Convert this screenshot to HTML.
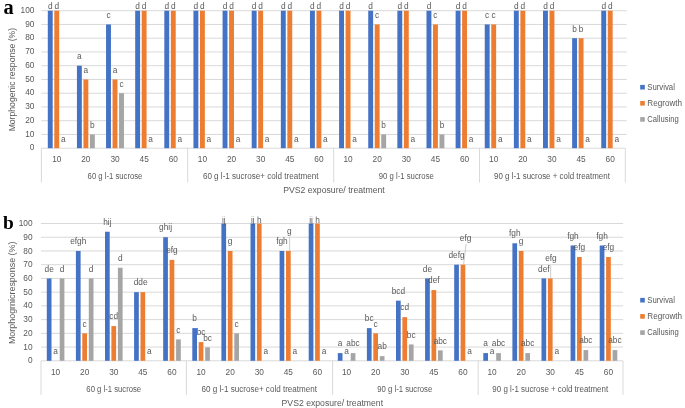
<!DOCTYPE html>
<html><head><meta charset="utf-8"><style>
html,body{margin:0;padding:0;background:#fff;}
body{width:685px;height:408px;overflow:hidden;}
svg{display:block;font-family:"Liberation Sans", sans-serif;}
svg{will-change:transform;filter:blur(0.4px);}
</style></head><body>
<svg width="685" height="408" viewBox="0 0 685 408">
<rect width="685" height="408" fill="#fff"/>
<rect x="41.40" y="133.95" width="585.40" height="1" fill="#d9d9d9"/>
<rect x="41.40" y="120.20" width="585.40" height="1" fill="#d9d9d9"/>
<rect x="41.40" y="106.45" width="585.40" height="1" fill="#d9d9d9"/>
<rect x="41.40" y="92.70" width="585.40" height="1" fill="#d9d9d9"/>
<rect x="41.40" y="78.95" width="585.40" height="1" fill="#d9d9d9"/>
<rect x="41.40" y="65.20" width="585.40" height="1" fill="#d9d9d9"/>
<rect x="41.40" y="51.45" width="585.40" height="1" fill="#d9d9d9"/>
<rect x="41.40" y="37.70" width="585.40" height="1" fill="#d9d9d9"/>
<rect x="41.40" y="23.95" width="585.40" height="1" fill="#d9d9d9"/>
<rect x="41.40" y="10.20" width="585.40" height="1" fill="#d9d9d9"/>
<rect x="41.40" y="147.70" width="583.90" height="1" fill="#d9d9d9"/>
<rect x="40.90" y="148.20" width="1" height="34.30" fill="#d9d9d9"/>
<rect x="187.20" y="148.20" width="1" height="34.30" fill="#d9d9d9"/>
<rect x="333.20" y="148.20" width="1" height="34.30" fill="#d9d9d9"/>
<rect x="479.00" y="148.20" width="1" height="34.30" fill="#d9d9d9"/>
<rect x="624.80" y="148.20" width="1" height="34.30" fill="#d9d9d9"/>
<text x="34.40" y="150.40" text-anchor="end" font-size="8.3" fill="#595959" >0</text>
<text x="34.40" y="136.65" text-anchor="end" font-size="8.3" fill="#595959" >10</text>
<text x="34.40" y="122.90" text-anchor="end" font-size="8.3" fill="#595959" >20</text>
<text x="34.40" y="109.15" text-anchor="end" font-size="8.3" fill="#595959" >30</text>
<text x="34.40" y="95.40" text-anchor="end" font-size="8.3" fill="#595959" >40</text>
<text x="34.40" y="81.65" text-anchor="end" font-size="8.3" fill="#595959" >50</text>
<text x="34.40" y="67.90" text-anchor="end" font-size="8.3" fill="#595959" >60</text>
<text x="34.40" y="54.15" text-anchor="end" font-size="8.3" fill="#595959" >70</text>
<text x="34.40" y="40.40" text-anchor="end" font-size="8.3" fill="#595959" >80</text>
<text x="34.40" y="26.65" text-anchor="end" font-size="8.3" fill="#595959" >90</text>
<text x="34.40" y="12.90" text-anchor="end" font-size="8.3" fill="#595959" >100</text>
<rect x="47.80" y="10.70" width="4.9" height="137.50" fill="#4472c4"/>
<text x="50.25" y="9.20" text-anchor="middle" font-size="8.3" fill="#595959" >d</text>
<rect x="54.30" y="10.70" width="4.9" height="137.50" fill="#ed7d31"/>
<text x="56.75" y="9.20" text-anchor="middle" font-size="8.3" fill="#595959" >d</text>
<text x="63.25" y="141.60" text-anchor="middle" font-size="8.3" fill="#595959" >a</text>
<rect x="76.93" y="65.70" width="4.9" height="82.50" fill="#4472c4"/>
<text x="79.38" y="59.10" text-anchor="middle" font-size="8.3" fill="#595959" >a</text>
<rect x="83.43" y="79.45" width="4.9" height="68.75" fill="#ed7d31"/>
<text x="85.88" y="72.85" text-anchor="middle" font-size="8.3" fill="#595959" >a</text>
<rect x="89.93" y="134.45" width="4.9" height="13.75" fill="#a5a5a5"/>
<text x="92.38" y="127.85" text-anchor="middle" font-size="8.3" fill="#595959" >b</text>
<rect x="106.06" y="24.45" width="4.9" height="123.75" fill="#4472c4"/>
<text x="108.51" y="17.85" text-anchor="middle" font-size="8.3" fill="#595959" >c</text>
<rect x="112.56" y="79.45" width="4.9" height="68.75" fill="#ed7d31"/>
<text x="115.01" y="72.85" text-anchor="middle" font-size="8.3" fill="#595959" >a</text>
<rect x="119.06" y="93.20" width="4.9" height="55.00" fill="#a5a5a5"/>
<text x="121.51" y="86.60" text-anchor="middle" font-size="8.3" fill="#595959" >c</text>
<rect x="135.19" y="10.70" width="4.9" height="137.50" fill="#4472c4"/>
<text x="137.64" y="9.20" text-anchor="middle" font-size="8.3" fill="#595959" >d</text>
<rect x="141.69" y="10.70" width="4.9" height="137.50" fill="#ed7d31"/>
<text x="144.14" y="9.20" text-anchor="middle" font-size="8.3" fill="#595959" >d</text>
<text x="150.64" y="141.60" text-anchor="middle" font-size="8.3" fill="#595959" >a</text>
<rect x="164.32" y="10.70" width="4.9" height="137.50" fill="#4472c4"/>
<text x="166.77" y="9.20" text-anchor="middle" font-size="8.3" fill="#595959" >d</text>
<rect x="170.82" y="10.70" width="4.9" height="137.50" fill="#ed7d31"/>
<text x="173.27" y="9.20" text-anchor="middle" font-size="8.3" fill="#595959" >d</text>
<text x="179.77" y="141.60" text-anchor="middle" font-size="8.3" fill="#595959" >a</text>
<rect x="193.45" y="10.70" width="4.9" height="137.50" fill="#4472c4"/>
<text x="195.90" y="9.20" text-anchor="middle" font-size="8.3" fill="#595959" >d</text>
<rect x="199.95" y="10.70" width="4.9" height="137.50" fill="#ed7d31"/>
<text x="202.40" y="9.20" text-anchor="middle" font-size="8.3" fill="#595959" >d</text>
<text x="208.90" y="141.60" text-anchor="middle" font-size="8.3" fill="#595959" >a</text>
<rect x="222.58" y="10.70" width="4.9" height="137.50" fill="#4472c4"/>
<text x="225.03" y="9.20" text-anchor="middle" font-size="8.3" fill="#595959" >d</text>
<rect x="229.08" y="10.70" width="4.9" height="137.50" fill="#ed7d31"/>
<text x="231.53" y="9.20" text-anchor="middle" font-size="8.3" fill="#595959" >d</text>
<text x="238.03" y="141.60" text-anchor="middle" font-size="8.3" fill="#595959" >a</text>
<rect x="251.71" y="10.70" width="4.9" height="137.50" fill="#4472c4"/>
<text x="254.16" y="9.20" text-anchor="middle" font-size="8.3" fill="#595959" >d</text>
<rect x="258.21" y="10.70" width="4.9" height="137.50" fill="#ed7d31"/>
<text x="260.66" y="9.20" text-anchor="middle" font-size="8.3" fill="#595959" >d</text>
<text x="267.16" y="141.60" text-anchor="middle" font-size="8.3" fill="#595959" >a</text>
<rect x="280.84" y="10.70" width="4.9" height="137.50" fill="#4472c4"/>
<text x="283.29" y="9.20" text-anchor="middle" font-size="8.3" fill="#595959" >d</text>
<rect x="287.34" y="10.70" width="4.9" height="137.50" fill="#ed7d31"/>
<text x="289.79" y="9.20" text-anchor="middle" font-size="8.3" fill="#595959" >d</text>
<text x="296.29" y="141.60" text-anchor="middle" font-size="8.3" fill="#595959" >a</text>
<rect x="309.97" y="10.70" width="4.9" height="137.50" fill="#4472c4"/>
<text x="312.42" y="9.20" text-anchor="middle" font-size="8.3" fill="#595959" >d</text>
<rect x="316.47" y="10.70" width="4.9" height="137.50" fill="#ed7d31"/>
<text x="318.92" y="9.20" text-anchor="middle" font-size="8.3" fill="#595959" >d</text>
<text x="325.42" y="141.60" text-anchor="middle" font-size="8.3" fill="#595959" >a</text>
<rect x="339.10" y="10.70" width="4.9" height="137.50" fill="#4472c4"/>
<text x="341.55" y="9.20" text-anchor="middle" font-size="8.3" fill="#595959" >d</text>
<rect x="345.60" y="10.70" width="4.9" height="137.50" fill="#ed7d31"/>
<text x="348.05" y="9.20" text-anchor="middle" font-size="8.3" fill="#595959" >d</text>
<text x="354.55" y="141.60" text-anchor="middle" font-size="8.3" fill="#595959" >a</text>
<rect x="368.23" y="10.70" width="4.9" height="137.50" fill="#4472c4"/>
<text x="370.68" y="9.20" text-anchor="middle" font-size="8.3" fill="#595959" >d</text>
<rect x="374.73" y="24.45" width="4.9" height="123.75" fill="#ed7d31"/>
<text x="377.18" y="17.85" text-anchor="middle" font-size="8.3" fill="#595959" >c</text>
<rect x="381.23" y="134.45" width="4.9" height="13.75" fill="#a5a5a5"/>
<text x="383.68" y="127.85" text-anchor="middle" font-size="8.3" fill="#595959" >b</text>
<rect x="397.36" y="10.70" width="4.9" height="137.50" fill="#4472c4"/>
<text x="399.81" y="9.20" text-anchor="middle" font-size="8.3" fill="#595959" >d</text>
<rect x="403.86" y="10.70" width="4.9" height="137.50" fill="#ed7d31"/>
<text x="406.31" y="9.20" text-anchor="middle" font-size="8.3" fill="#595959" >d</text>
<text x="412.81" y="141.60" text-anchor="middle" font-size="8.3" fill="#595959" >a</text>
<rect x="426.49" y="10.70" width="4.9" height="137.50" fill="#4472c4"/>
<text x="428.94" y="9.20" text-anchor="middle" font-size="8.3" fill="#595959" >d</text>
<rect x="432.99" y="24.45" width="4.9" height="123.75" fill="#ed7d31"/>
<text x="435.44" y="17.85" text-anchor="middle" font-size="8.3" fill="#595959" >c</text>
<rect x="439.49" y="134.45" width="4.9" height="13.75" fill="#a5a5a5"/>
<text x="441.94" y="127.85" text-anchor="middle" font-size="8.3" fill="#595959" >b</text>
<rect x="455.62" y="10.70" width="4.9" height="137.50" fill="#4472c4"/>
<text x="458.07" y="9.20" text-anchor="middle" font-size="8.3" fill="#595959" >d</text>
<rect x="462.12" y="10.70" width="4.9" height="137.50" fill="#ed7d31"/>
<text x="464.57" y="9.20" text-anchor="middle" font-size="8.3" fill="#595959" >d</text>
<text x="471.07" y="141.60" text-anchor="middle" font-size="8.3" fill="#595959" >a</text>
<rect x="484.75" y="24.45" width="4.9" height="123.75" fill="#4472c4"/>
<text x="487.20" y="17.85" text-anchor="middle" font-size="8.3" fill="#595959" >c</text>
<rect x="491.25" y="24.45" width="4.9" height="123.75" fill="#ed7d31"/>
<text x="493.70" y="17.85" text-anchor="middle" font-size="8.3" fill="#595959" >c</text>
<text x="500.20" y="141.60" text-anchor="middle" font-size="8.3" fill="#595959" >a</text>
<rect x="513.88" y="10.70" width="4.9" height="137.50" fill="#4472c4"/>
<text x="516.33" y="9.20" text-anchor="middle" font-size="8.3" fill="#595959" >d</text>
<rect x="520.38" y="10.70" width="4.9" height="137.50" fill="#ed7d31"/>
<text x="522.83" y="9.20" text-anchor="middle" font-size="8.3" fill="#595959" >d</text>
<text x="529.33" y="141.60" text-anchor="middle" font-size="8.3" fill="#595959" >a</text>
<rect x="543.01" y="10.70" width="4.9" height="137.50" fill="#4472c4"/>
<text x="545.46" y="9.20" text-anchor="middle" font-size="8.3" fill="#595959" >d</text>
<rect x="549.51" y="10.70" width="4.9" height="137.50" fill="#ed7d31"/>
<text x="551.96" y="9.20" text-anchor="middle" font-size="8.3" fill="#595959" >d</text>
<text x="558.46" y="141.60" text-anchor="middle" font-size="8.3" fill="#595959" >a</text>
<rect x="572.14" y="38.20" width="4.9" height="110.00" fill="#4472c4"/>
<text x="574.59" y="31.60" text-anchor="middle" font-size="8.3" fill="#595959" >b</text>
<rect x="578.64" y="38.20" width="4.9" height="110.00" fill="#ed7d31"/>
<text x="581.09" y="31.60" text-anchor="middle" font-size="8.3" fill="#595959" >b</text>
<text x="587.59" y="141.60" text-anchor="middle" font-size="8.3" fill="#595959" >a</text>
<rect x="601.27" y="10.70" width="4.9" height="137.50" fill="#4472c4"/>
<text x="603.72" y="9.20" text-anchor="middle" font-size="8.3" fill="#595959" >d</text>
<rect x="607.77" y="10.70" width="4.9" height="137.50" fill="#ed7d31"/>
<text x="610.22" y="9.20" text-anchor="middle" font-size="8.3" fill="#595959" >d</text>
<text x="616.72" y="141.60" text-anchor="middle" font-size="8.3" fill="#595959" >a</text>
<text x="56.75" y="161.80" text-anchor="middle" font-size="8.3" fill="#595959" >10</text>
<text x="85.88" y="161.80" text-anchor="middle" font-size="8.3" fill="#595959" >20</text>
<text x="115.01" y="161.80" text-anchor="middle" font-size="8.3" fill="#595959" >30</text>
<text x="144.14" y="161.80" text-anchor="middle" font-size="8.3" fill="#595959" >45</text>
<text x="173.27" y="161.80" text-anchor="middle" font-size="8.3" fill="#595959" >60</text>
<text x="202.40" y="161.80" text-anchor="middle" font-size="8.3" fill="#595959" >10</text>
<text x="231.53" y="161.80" text-anchor="middle" font-size="8.3" fill="#595959" >20</text>
<text x="260.66" y="161.80" text-anchor="middle" font-size="8.3" fill="#595959" >30</text>
<text x="289.79" y="161.80" text-anchor="middle" font-size="8.3" fill="#595959" >45</text>
<text x="318.92" y="161.80" text-anchor="middle" font-size="8.3" fill="#595959" >60</text>
<text x="348.05" y="161.80" text-anchor="middle" font-size="8.3" fill="#595959" >10</text>
<text x="377.18" y="161.80" text-anchor="middle" font-size="8.3" fill="#595959" >20</text>
<text x="406.31" y="161.80" text-anchor="middle" font-size="8.3" fill="#595959" >30</text>
<text x="435.44" y="161.80" text-anchor="middle" font-size="8.3" fill="#595959" >45</text>
<text x="464.57" y="161.80" text-anchor="middle" font-size="8.3" fill="#595959" >60</text>
<text x="493.70" y="161.80" text-anchor="middle" font-size="8.3" fill="#595959" >10</text>
<text x="522.83" y="161.80" text-anchor="middle" font-size="8.3" fill="#595959" >20</text>
<text x="551.96" y="161.80" text-anchor="middle" font-size="8.3" fill="#595959" >30</text>
<text x="581.09" y="161.80" text-anchor="middle" font-size="8.3" fill="#595959" >45</text>
<text x="610.22" y="161.80" text-anchor="middle" font-size="8.3" fill="#595959" >60</text>
<text x="115.01" y="178.80" text-anchor="middle" font-size="8.3" fill="#595959" textLength="54.8" lengthAdjust="spacingAndGlyphs" >60 g l-1 sucrose</text>
<text x="260.66" y="178.80" text-anchor="middle" font-size="8.3" fill="#595959" textLength="115.5" lengthAdjust="spacingAndGlyphs" >60 g l-1 sucrose+ cold treatment</text>
<text x="406.31" y="178.80" text-anchor="middle" font-size="8.3" fill="#595959" textLength="55.0" lengthAdjust="spacingAndGlyphs" >90 g l-1 sucrose</text>
<text x="551.96" y="178.80" text-anchor="middle" font-size="8.3" fill="#595959" textLength="115.8" lengthAdjust="spacingAndGlyphs" >90 g l-1 sucrose + cold treatment</text>
<text x="283.20" y="193.00" text-anchor="start" font-size="8.3" fill="#595959" textLength="101.5" lengthAdjust="spacingAndGlyphs" >PVS2 exposure/ treatment</text>
<text x="0" y="0" transform="translate(15.0,79.6) rotate(-90)" text-anchor="middle" font-size="8.3" fill="#595959" textLength="103.5" lengthAdjust="spacingAndGlyphs">Morphogenic response (%)</text>
<rect x="640.2" y="84.90" width="4.6" height="4.6" fill="#4472c4"/>
<text x="647.30" y="90.20" text-anchor="start" font-size="8.3" fill="#595959" textLength="27.6" lengthAdjust="spacingAndGlyphs" >Survival</text>
<rect x="640.2" y="101.00" width="4.6" height="4.6" fill="#ed7d31"/>
<text x="647.30" y="106.30" text-anchor="start" font-size="8.3" fill="#595959" textLength="34.8" lengthAdjust="spacingAndGlyphs" >Regrowth</text>
<rect x="640.2" y="117.10" width="4.6" height="4.6" fill="#a5a5a5"/>
<text x="647.30" y="122.40" text-anchor="start" font-size="8.3" fill="#595959" textLength="31.4" lengthAdjust="spacingAndGlyphs" >Callusing</text>
<text x="3.6" y="13.5" font-family="&quot;Liberation Serif&quot;, serif" font-weight="bold" font-size="20.4" fill="#000">a</text>
<rect x="41.00" y="346.57" width="582.10" height="1" fill="#d9d9d9"/>
<rect x="41.00" y="332.84" width="582.10" height="1" fill="#d9d9d9"/>
<rect x="41.00" y="319.11" width="582.10" height="1" fill="#d9d9d9"/>
<rect x="41.00" y="305.38" width="582.10" height="1" fill="#d9d9d9"/>
<rect x="41.00" y="291.65" width="582.10" height="1" fill="#d9d9d9"/>
<rect x="41.00" y="277.92" width="582.10" height="1" fill="#d9d9d9"/>
<rect x="41.00" y="264.19" width="582.10" height="1" fill="#d9d9d9"/>
<rect x="41.00" y="250.46" width="582.10" height="1" fill="#d9d9d9"/>
<rect x="41.00" y="236.73" width="582.10" height="1" fill="#d9d9d9"/>
<rect x="41.00" y="223.00" width="582.10" height="1" fill="#d9d9d9"/>
<rect x="41.00" y="360.30" width="582.00" height="1" fill="#d9d9d9"/>
<rect x="40.50" y="360.80" width="1" height="34.00" fill="#d9d9d9"/>
<rect x="185.90" y="360.80" width="1" height="34.00" fill="#d9d9d9"/>
<rect x="332.10" y="360.80" width="1" height="34.00" fill="#d9d9d9"/>
<rect x="477.70" y="360.80" width="1" height="34.00" fill="#d9d9d9"/>
<rect x="622.50" y="360.80" width="1" height="34.00" fill="#d9d9d9"/>
<text x="32.60" y="363.40" text-anchor="end" font-size="8.3" fill="#595959" >0</text>
<text x="32.60" y="349.67" text-anchor="end" font-size="8.3" fill="#595959" >10</text>
<text x="32.60" y="335.94" text-anchor="end" font-size="8.3" fill="#595959" >20</text>
<text x="32.60" y="322.21" text-anchor="end" font-size="8.3" fill="#595959" >30</text>
<text x="32.60" y="308.48" text-anchor="end" font-size="8.3" fill="#595959" >40</text>
<text x="32.60" y="294.75" text-anchor="end" font-size="8.3" fill="#595959" >50</text>
<text x="32.60" y="281.02" text-anchor="end" font-size="8.3" fill="#595959" >60</text>
<text x="32.60" y="267.29" text-anchor="end" font-size="8.3" fill="#595959" >70</text>
<text x="32.60" y="253.56" text-anchor="end" font-size="8.3" fill="#595959" >80</text>
<text x="32.60" y="239.83" text-anchor="end" font-size="8.3" fill="#595959" >90</text>
<text x="32.60" y="226.10" text-anchor="end" font-size="8.3" fill="#595959" >100</text>
<clipPath id="cbot"><rect x="0" y="216.6" width="685" height="408"/></clipPath>
<g clip-path="url(#cbot)">
<rect x="46.80" y="278.42" width="4.7" height="82.38" fill="#4472c4"/>
<text x="49.15" y="271.62" text-anchor="middle" font-size="8.3" fill="#595959" >de</text>
<text x="55.55" y="354.00" text-anchor="middle" font-size="8.3" fill="#595959" >a</text>
<rect x="59.70" y="278.42" width="4.7" height="82.38" fill="#a5a5a5"/>
<text x="62.05" y="271.62" text-anchor="middle" font-size="8.3" fill="#595959" >d</text>
<rect x="75.90" y="250.96" width="4.7" height="109.84" fill="#4472c4"/>
<text x="78.25" y="244.16" text-anchor="middle" font-size="8.3" fill="#595959" >efgh</text>
<rect x="82.30" y="333.34" width="4.7" height="27.46" fill="#ed7d31"/>
<text x="84.65" y="326.54" text-anchor="middle" font-size="8.3" fill="#595959" >c</text>
<rect x="88.80" y="278.42" width="4.7" height="82.38" fill="#a5a5a5"/>
<text x="91.15" y="271.62" text-anchor="middle" font-size="8.3" fill="#595959" >d</text>
<rect x="105.00" y="231.74" width="4.7" height="129.06" fill="#4472c4"/>
<text x="107.35" y="224.94" text-anchor="middle" font-size="8.3" fill="#595959" >hij</text>
<rect x="111.40" y="326.06" width="4.7" height="34.74" fill="#ed7d31"/>
<text x="113.75" y="319.26" text-anchor="middle" font-size="8.3" fill="#595959" >cd</text>
<rect x="117.90" y="267.71" width="4.7" height="93.09" fill="#a5a5a5"/>
<text x="120.25" y="260.91" text-anchor="middle" font-size="8.3" fill="#595959" >d</text>
<rect x="134.10" y="292.15" width="4.7" height="68.65" fill="#4472c4"/>
<text x="140.60" y="285.35" text-anchor="middle" font-size="8.3" fill="#595959" >dde</text>
<rect x="140.50" y="292.15" width="4.7" height="68.65" fill="#ed7d31"/>
<text x="149.35" y="354.00" text-anchor="middle" font-size="8.3" fill="#595959" >a</text>
<rect x="163.20" y="237.23" width="4.7" height="123.57" fill="#4472c4"/>
<text x="165.55" y="230.43" text-anchor="middle" font-size="8.3" fill="#595959" >ghij</text>
<rect x="169.60" y="259.88" width="4.7" height="100.92" fill="#ed7d31"/>
<text x="171.95" y="253.08" text-anchor="middle" font-size="8.3" fill="#595959" >efg</text>
<rect x="176.10" y="339.38" width="4.7" height="21.42" fill="#a5a5a5"/>
<text x="178.45" y="332.58" text-anchor="middle" font-size="8.3" fill="#595959" >c</text>
<rect x="192.30" y="328.12" width="4.7" height="32.68" fill="#4472c4"/>
<text x="194.65" y="321.32" text-anchor="middle" font-size="8.3" fill="#595959" >b</text>
<rect x="198.70" y="342.13" width="4.7" height="18.67" fill="#ed7d31"/>
<text x="201.05" y="335.33" text-anchor="middle" font-size="8.3" fill="#595959" >bc</text>
<rect x="205.20" y="347.34" width="4.7" height="13.46" fill="#a5a5a5"/>
<text x="207.55" y="340.54" text-anchor="middle" font-size="8.3" fill="#595959" >bc</text>
<rect x="221.40" y="223.50" width="4.7" height="137.30" fill="#4472c4"/>
<text x="223.75" y="222.60" text-anchor="middle" font-size="8.3" fill="#595959" >ij</text>
<rect x="227.80" y="250.96" width="4.7" height="109.84" fill="#ed7d31"/>
<text x="230.15" y="244.16" text-anchor="middle" font-size="8.3" fill="#595959" >g</text>
<rect x="234.30" y="333.34" width="4.7" height="27.46" fill="#a5a5a5"/>
<text x="236.65" y="326.54" text-anchor="middle" font-size="8.3" fill="#595959" >c</text>
<rect x="250.50" y="223.50" width="4.7" height="137.30" fill="#4472c4"/>
<text x="252.85" y="222.60" text-anchor="middle" font-size="8.3" fill="#595959" >ij</text>
<rect x="256.90" y="223.50" width="4.7" height="137.30" fill="#ed7d31"/>
<text x="259.25" y="222.60" text-anchor="middle" font-size="8.3" fill="#595959" >h</text>
<text x="265.75" y="354.00" text-anchor="middle" font-size="8.3" fill="#595959" >a</text>
<rect x="279.60" y="250.96" width="4.7" height="109.84" fill="#4472c4"/>
<text x="281.95" y="244.16" text-anchor="middle" font-size="8.3" fill="#595959" >fgh</text>
<rect x="286.00" y="250.96" width="4.7" height="109.84" fill="#ed7d31"/>
<text x="289.30" y="234.00" text-anchor="middle" font-size="8.3" fill="#595959" >g</text>
<text x="294.85" y="354.00" text-anchor="middle" font-size="8.3" fill="#595959" >a</text>
<rect x="308.70" y="223.50" width="4.7" height="137.30" fill="#4472c4"/>
<text x="311.05" y="222.60" text-anchor="middle" font-size="8.3" fill="#595959" >ij</text>
<rect x="315.10" y="223.50" width="4.7" height="137.30" fill="#ed7d31"/>
<text x="317.45" y="222.60" text-anchor="middle" font-size="8.3" fill="#595959" >h</text>
<text x="323.95" y="354.00" text-anchor="middle" font-size="8.3" fill="#595959" >a</text>
<rect x="337.80" y="353.11" width="4.7" height="7.69" fill="#4472c4"/>
<text x="340.15" y="346.31" text-anchor="middle" font-size="8.3" fill="#595959" >a</text>
<text x="346.55" y="354.00" text-anchor="middle" font-size="8.3" fill="#595959" >a</text>
<rect x="350.70" y="353.11" width="4.7" height="7.69" fill="#a5a5a5"/>
<text x="353.05" y="346.31" text-anchor="middle" font-size="8.3" fill="#595959" >abc</text>
<rect x="366.90" y="328.12" width="4.7" height="32.68" fill="#4472c4"/>
<text x="369.25" y="321.32" text-anchor="middle" font-size="8.3" fill="#595959" >bc</text>
<rect x="373.30" y="333.34" width="4.7" height="27.46" fill="#ed7d31"/>
<text x="375.65" y="326.54" text-anchor="middle" font-size="8.3" fill="#595959" >c</text>
<rect x="379.80" y="356.13" width="4.7" height="4.67" fill="#a5a5a5"/>
<text x="382.15" y="349.33" text-anchor="middle" font-size="8.3" fill="#595959" >ab</text>
<rect x="396.00" y="300.66" width="4.7" height="60.14" fill="#4472c4"/>
<text x="398.35" y="293.86" text-anchor="middle" font-size="8.3" fill="#595959" >bcd</text>
<rect x="402.40" y="317.14" width="4.7" height="43.66" fill="#ed7d31"/>
<text x="404.75" y="310.34" text-anchor="middle" font-size="8.3" fill="#595959" >cd</text>
<rect x="408.90" y="344.46" width="4.7" height="16.34" fill="#a5a5a5"/>
<text x="411.25" y="337.66" text-anchor="middle" font-size="8.3" fill="#595959" >bc</text>
<rect x="425.10" y="278.42" width="4.7" height="82.38" fill="#4472c4"/>
<text x="427.45" y="271.62" text-anchor="middle" font-size="8.3" fill="#595959" >de</text>
<rect x="431.50" y="290.09" width="4.7" height="70.71" fill="#ed7d31"/>
<text x="433.85" y="283.29" text-anchor="middle" font-size="8.3" fill="#595959" >def</text>
<rect x="438.00" y="350.37" width="4.7" height="10.43" fill="#a5a5a5"/>
<text x="440.35" y="343.57" text-anchor="middle" font-size="8.3" fill="#595959" >abc</text>
<rect x="454.20" y="264.69" width="4.7" height="96.11" fill="#4472c4"/>
<text x="456.55" y="257.89" text-anchor="middle" font-size="8.3" fill="#595959" >defg</text>
<rect x="460.60" y="264.69" width="4.7" height="96.11" fill="#ed7d31"/>
<text x="465.60" y="240.90" text-anchor="middle" font-size="8.3" fill="#595959" >efg</text>
<text x="469.45" y="354.00" text-anchor="middle" font-size="8.3" fill="#595959" >a</text>
<rect x="483.30" y="353.11" width="4.7" height="7.69" fill="#4472c4"/>
<text x="485.65" y="346.31" text-anchor="middle" font-size="8.3" fill="#595959" >a</text>
<text x="492.05" y="354.00" text-anchor="middle" font-size="8.3" fill="#595959" >a</text>
<rect x="496.20" y="353.11" width="4.7" height="7.69" fill="#a5a5a5"/>
<text x="498.55" y="346.31" text-anchor="middle" font-size="8.3" fill="#595959" >abc</text>
<rect x="512.40" y="243.27" width="4.7" height="117.53" fill="#4472c4"/>
<text x="514.75" y="236.47" text-anchor="middle" font-size="8.3" fill="#595959" >fgh</text>
<rect x="518.80" y="250.96" width="4.7" height="109.84" fill="#ed7d31"/>
<text x="521.15" y="244.16" text-anchor="middle" font-size="8.3" fill="#595959" >g</text>
<rect x="525.30" y="353.11" width="4.7" height="7.69" fill="#a5a5a5"/>
<text x="527.65" y="346.31" text-anchor="middle" font-size="8.3" fill="#595959" >abc</text>
<rect x="541.50" y="278.42" width="4.7" height="82.38" fill="#4472c4"/>
<text x="543.85" y="271.62" text-anchor="middle" font-size="8.3" fill="#595959" >def</text>
<rect x="547.90" y="278.42" width="4.7" height="82.38" fill="#ed7d31"/>
<text x="550.90" y="261.40" text-anchor="middle" font-size="8.3" fill="#595959" >efg</text>
<text x="556.75" y="354.00" text-anchor="middle" font-size="8.3" fill="#595959" >a</text>
<rect x="570.60" y="245.47" width="4.7" height="115.33" fill="#4472c4"/>
<text x="572.95" y="238.67" text-anchor="middle" font-size="8.3" fill="#595959" >fgh</text>
<rect x="577.00" y="257.00" width="4.7" height="103.80" fill="#ed7d31"/>
<text x="579.35" y="250.20" text-anchor="middle" font-size="8.3" fill="#595959" >efg</text>
<rect x="583.50" y="350.09" width="4.7" height="10.71" fill="#a5a5a5"/>
<text x="585.85" y="343.29" text-anchor="middle" font-size="8.3" fill="#595959" >abc</text>
<rect x="599.70" y="245.47" width="4.7" height="115.33" fill="#4472c4"/>
<text x="602.05" y="238.67" text-anchor="middle" font-size="8.3" fill="#595959" >fgh</text>
<rect x="606.10" y="257.00" width="4.7" height="103.80" fill="#ed7d31"/>
<text x="608.45" y="250.20" text-anchor="middle" font-size="8.3" fill="#595959" >efg</text>
<rect x="612.60" y="350.09" width="4.7" height="10.71" fill="#a5a5a5"/>
<text x="614.95" y="343.29" text-anchor="middle" font-size="8.3" fill="#595959" >abc</text>
</g>
<line x1="289.6" y1="237.0" x2="289.6" y2="250.8" stroke="#bfbfbf" stroke-width="0.8"/>
<line x1="466.1" y1="243.8" x2="463.6" y2="264.6" stroke="#bfbfbf" stroke-width="0.8"/>
<line x1="550.7" y1="265.5" x2="550.7" y2="278.2" stroke="#bfbfbf" stroke-width="0.8"/>
<text x="55.55" y="375.30" text-anchor="middle" font-size="8.3" fill="#595959" >10</text>
<text x="84.65" y="375.30" text-anchor="middle" font-size="8.3" fill="#595959" >20</text>
<text x="113.75" y="375.30" text-anchor="middle" font-size="8.3" fill="#595959" >30</text>
<text x="142.85" y="375.30" text-anchor="middle" font-size="8.3" fill="#595959" >45</text>
<text x="171.95" y="375.30" text-anchor="middle" font-size="8.3" fill="#595959" >60</text>
<text x="201.05" y="375.30" text-anchor="middle" font-size="8.3" fill="#595959" >10</text>
<text x="230.15" y="375.30" text-anchor="middle" font-size="8.3" fill="#595959" >20</text>
<text x="259.25" y="375.30" text-anchor="middle" font-size="8.3" fill="#595959" >30</text>
<text x="288.35" y="375.30" text-anchor="middle" font-size="8.3" fill="#595959" >45</text>
<text x="317.45" y="375.30" text-anchor="middle" font-size="8.3" fill="#595959" >60</text>
<text x="346.55" y="375.30" text-anchor="middle" font-size="8.3" fill="#595959" >10</text>
<text x="375.65" y="375.30" text-anchor="middle" font-size="8.3" fill="#595959" >20</text>
<text x="404.75" y="375.30" text-anchor="middle" font-size="8.3" fill="#595959" >30</text>
<text x="433.85" y="375.30" text-anchor="middle" font-size="8.3" fill="#595959" >45</text>
<text x="462.95" y="375.30" text-anchor="middle" font-size="8.3" fill="#595959" >60</text>
<text x="492.05" y="375.30" text-anchor="middle" font-size="8.3" fill="#595959" >10</text>
<text x="521.15" y="375.30" text-anchor="middle" font-size="8.3" fill="#595959" >20</text>
<text x="550.25" y="375.30" text-anchor="middle" font-size="8.3" fill="#595959" >30</text>
<text x="579.35" y="375.30" text-anchor="middle" font-size="8.3" fill="#595959" >45</text>
<text x="608.45" y="375.30" text-anchor="middle" font-size="8.3" fill="#595959" >60</text>
<text x="113.75" y="391.60" text-anchor="middle" font-size="8.3" fill="#595959" textLength="54.8" lengthAdjust="spacingAndGlyphs" >60 g l-1 sucrose</text>
<text x="259.25" y="391.60" text-anchor="middle" font-size="8.3" fill="#595959" textLength="115.5" lengthAdjust="spacingAndGlyphs" >60 g l-1 sucrose+ cold treatment</text>
<text x="404.75" y="391.60" text-anchor="middle" font-size="8.3" fill="#595959" textLength="55.0" lengthAdjust="spacingAndGlyphs" >90 g l-1 sucrose</text>
<text x="550.25" y="391.60" text-anchor="middle" font-size="8.3" fill="#595959" textLength="115.8" lengthAdjust="spacingAndGlyphs" >90 g l-1 sucrose + cold treatment</text>
<text x="281.60" y="405.50" text-anchor="start" font-size="8.3" fill="#595959" textLength="101.5" lengthAdjust="spacingAndGlyphs" >PVS2 exposure/ treatment</text>
<text x="0" y="0" transform="translate(15.0,292.8) rotate(-90)" text-anchor="middle" font-size="8.3" fill="#595959" textLength="102.5" lengthAdjust="spacingAndGlyphs">Morphogrnicresponse (%)</text>
<rect x="640.2" y="297.90" width="4.6" height="4.6" fill="#4472c4"/>
<text x="647.30" y="302.70" text-anchor="start" font-size="8.3" fill="#595959" textLength="27.6" lengthAdjust="spacingAndGlyphs" >Survival</text>
<rect x="640.2" y="314.10" width="4.6" height="4.6" fill="#ed7d31"/>
<text x="647.30" y="318.90" text-anchor="start" font-size="8.3" fill="#595959" textLength="34.8" lengthAdjust="spacingAndGlyphs" >Regrowth</text>
<rect x="640.2" y="330.30" width="4.6" height="4.6" fill="#a5a5a5"/>
<text x="647.30" y="335.10" text-anchor="start" font-size="8.3" fill="#595959" textLength="31.4" lengthAdjust="spacingAndGlyphs" >Callusing</text>
<text x="3.1" y="229.4" font-family="&quot;Liberation Serif&quot;, serif" font-weight="bold" font-size="19.4" fill="#000">b</text>
</svg></body></html>
